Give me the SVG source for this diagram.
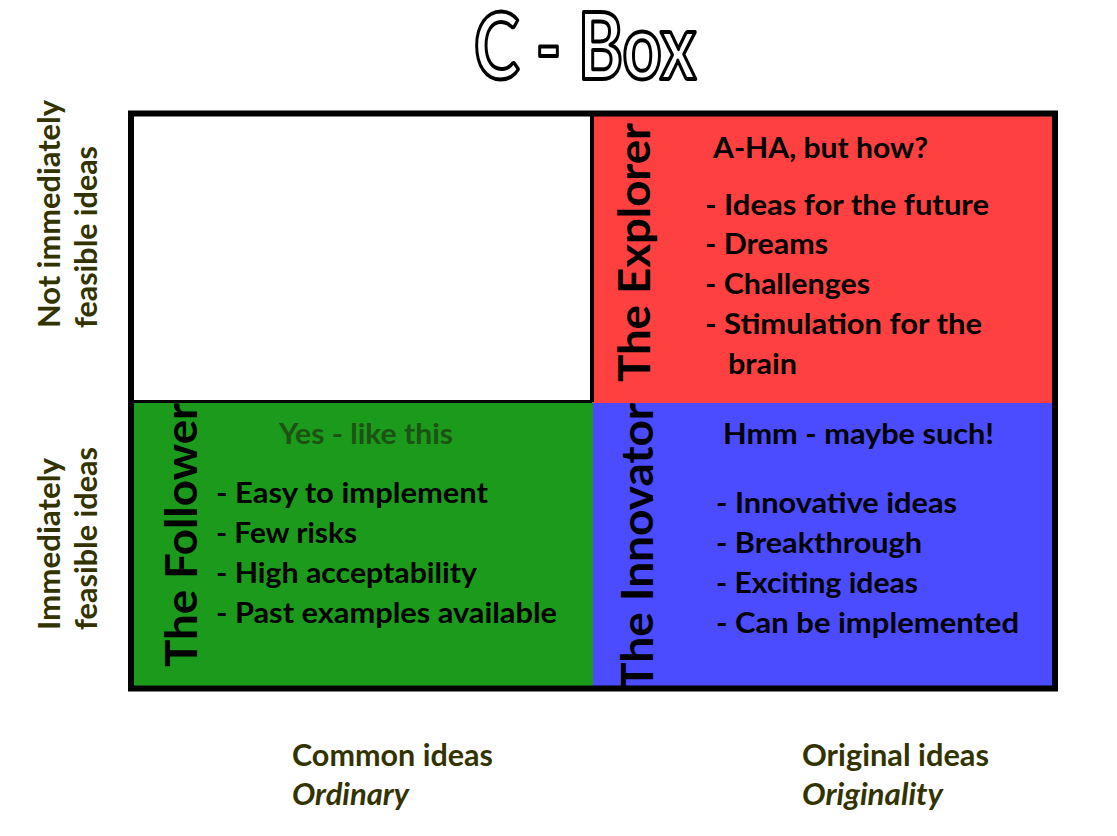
<svg xmlns="http://www.w3.org/2000/svg" width="1117" height="836" viewBox="0 0 1117 836">
  <style>
    text { font-family: Lato, "Liberation Sans", sans-serif; font-weight: bold; }
    .b { font-size: 29px; fill: #000; }
    .lbl { font-size: 44px; fill: #000; }
    .ax { font-size: 30px; fill: #333300; }
    .it { font-style: italic; }
    .title { font-family: Lato, "Liberation Sans", sans-serif; font-weight: bold; font-size: 92px; fill: #fff; stroke: #000; stroke-width: 4; stroke-linejoin: round; }
  </style>
  <rect width="1117" height="836" fill="#fff"/>

  <g id="title">
    <text class="title" x="474" y="79" textLength="222" lengthAdjust="spacingAndGlyphs">C - Box</text>
  </g>

  <g id="q-empty">
    <rect x="131" y="114" width="461" height="288" fill="#fff"/>
  </g>

  <g id="q-explorer">
    <rect x="592" y="114" width="463" height="289" fill="#FF4040"/>
    <text class="b" x="713" y="158" textLength="215" lengthAdjust="spacingAndGlyphs">A-HA, but how?</text>
    <text class="b" x="705" y="215" textLength="284" lengthAdjust="spacingAndGlyphs">- Ideas for the future</text>
    <text class="b" x="705" y="254" textLength="123" lengthAdjust="spacingAndGlyphs">- Dreams</text>
    <text class="b" x="705" y="294" textLength="165" lengthAdjust="spacingAndGlyphs">- Challenges</text>
    <text class="b" x="705" y="334" textLength="277" lengthAdjust="spacingAndGlyphs">- Stimulation for the</text>
    <text class="b" x="728" y="374" textLength="69" lengthAdjust="spacingAndGlyphs">brain</text>
  </g>

  <g id="q-follower">
    <rect x="131" y="402" width="462" height="287" fill="#1B9A1B"/>
    <text class="b" x="279" y="444" style="fill:#1C5214" textLength="174" lengthAdjust="spacingAndGlyphs">Yes - like this</text>
    <text class="b" x="216" y="503" textLength="272" lengthAdjust="spacingAndGlyphs">- Easy to implement</text>
    <text class="b" x="216" y="543" textLength="141" lengthAdjust="spacingAndGlyphs">- Few risks</text>
    <text class="b" x="216" y="583" textLength="261" lengthAdjust="spacingAndGlyphs">- High acceptability</text>
    <text class="b" x="216" y="623" textLength="341" lengthAdjust="spacingAndGlyphs">- Past examples available</text>
  </g>

  <g id="q-innovator">
    <rect x="593" y="403" width="462" height="286" fill="#4B4BFF"/>
    <text class="b" x="723" y="444" textLength="271" lengthAdjust="spacingAndGlyphs">Hmm - maybe such!</text>
    <text class="b" x="716" y="513" textLength="241" lengthAdjust="spacingAndGlyphs">- Innovative ideas</text>
    <text class="b" x="716" y="553" textLength="206" lengthAdjust="spacingAndGlyphs">- Breakthrough</text>
    <text class="b" x="716" y="593" textLength="202" lengthAdjust="spacingAndGlyphs">- Exciting ideas</text>
    <text class="b" x="716" y="633" textLength="303" lengthAdjust="spacingAndGlyphs">- Can be implemented</text>
  </g>

  <g id="frame">
    <rect x="131" y="113.5" width="924" height="575" fill="none" stroke="#000" stroke-width="6"/>
    <rect x="590" y="116" width="4" height="286" fill="#000"/>
    <rect x="134" y="400" width="458" height="3" fill="#000"/>
  </g>

  <g id="role-labels">
    <text class="lbl" transform="translate(650,382) rotate(-90)" textLength="259" lengthAdjust="spacingAndGlyphs">The Explorer</text>
    <text class="lbl" transform="translate(197,667) rotate(-90)" textLength="264" lengthAdjust="spacingAndGlyphs">The Follower</text>
    <text class="lbl" transform="translate(653,690) rotate(-90)" textLength="287" lengthAdjust="spacingAndGlyphs">The Innovator</text>
  </g>

  <g id="axis-y">
    <text class="ax" transform="translate(60,328) rotate(-90)" textLength="228" lengthAdjust="spacingAndGlyphs">Not immediately</text>
    <text class="ax" transform="translate(97,328) rotate(-90)" textLength="182" lengthAdjust="spacingAndGlyphs">feasible ideas</text>
    <text class="ax" transform="translate(60,630) rotate(-90)" textLength="172" lengthAdjust="spacingAndGlyphs">Immediately</text>
    <text class="ax" transform="translate(97,630) rotate(-90)" textLength="183" lengthAdjust="spacingAndGlyphs">feasible ideas</text>
  </g>

  <g id="axis-x">
    <text class="ax" x="292" y="766" textLength="201" lengthAdjust="spacingAndGlyphs">Common ideas</text>
    <text class="ax it" x="292" y="805" textLength="117" lengthAdjust="spacingAndGlyphs">Ordinary</text>
    <text class="ax" x="802" y="766" textLength="187" lengthAdjust="spacingAndGlyphs">Original ideas</text>
    <text class="ax it" x="802" y="805" textLength="141" lengthAdjust="spacingAndGlyphs">Originality</text>
  </g>
</svg>
